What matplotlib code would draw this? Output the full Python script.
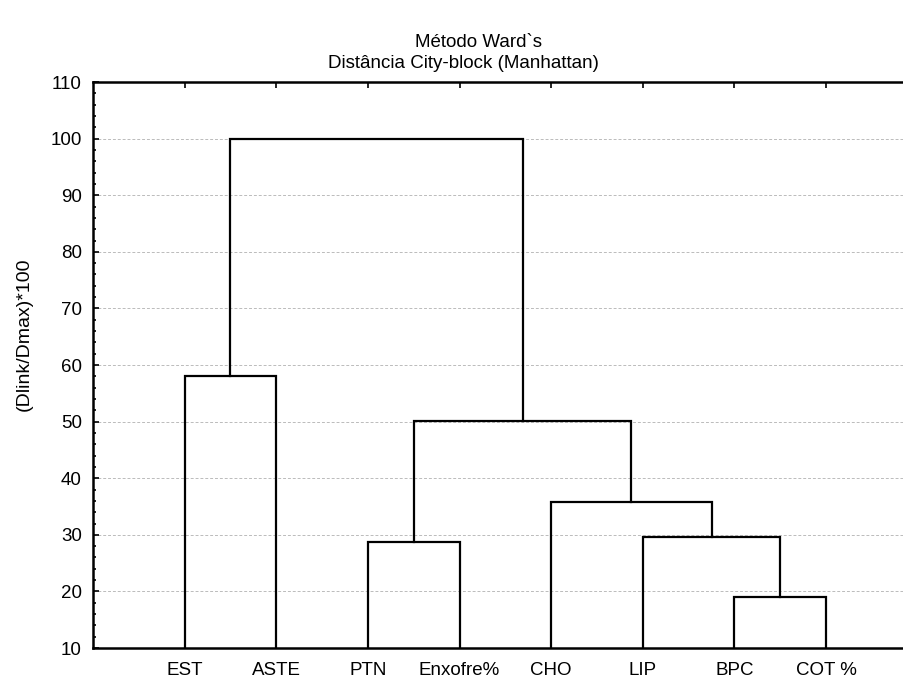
import matplotlib.pyplot as plt
from matplotlib.ticker import MultipleLocator

plt.rcParams['font.family'] = ['Liberation Sans', 'DejaVu Sans']

# leaves in plotting order
labels = ['EST', 'ASTE', 'PTN', 'Enxofre%', 'CHO', 'LIP', 'BPC', 'COT %']
# merges: (left node, right node, linkage distance); new node ids start at len(labels)
merge_left = [6, 5, 4, 2, 11, 0, 13]
merge_right = [7, 8, 9, 3, 10, 1, 12]
merge_height = [19.0, 29.7, 35.8, 28.7, 50.2, 58.0, 100.0]
base = 10

fig = plt.figure(figsize=(9.04, 6.78), dpi=100)
ax = fig.add_axes([0.1029, 0.0442, 0.8971, 0.8348])

# position and height of every node
xpos = {i: i + 1 for i in range(len(labels))}
ypos = {i: base for i in range(len(labels))}
for k in range(len(merge_height)):
    a, b, h = merge_left[k], merge_right[k], merge_height[k]
    ax.plot([xpos[a], xpos[a], xpos[b], xpos[b]], [ypos[a], h, h, ypos[b]],
            color='black', lw=1.6, solid_joinstyle='miter', zorder=3)
    node = len(labels) + k
    xpos[node] = (xpos[a] + xpos[b]) / 2
    ypos[node] = h

ax.set_xlim(0, 8.85)
ax.set_ylim(10, 110)
ax.set_xticks(range(1, len(labels) + 1))
ax.set_xticklabels(labels, fontsize=13.5)
ax.yaxis.set_major_locator(MultipleLocator(10))
ax.yaxis.set_minor_locator(MultipleLocator(2))
ax.tick_params(axis='y', which='major', direction='in', length=4, width=1.2,
               labelsize=13.5, pad=8)
ax.tick_params(axis='y', which='minor', direction='in', length=2.5, width=1.2)
ax.tick_params(axis='x', direction='in', top=True, bottom=False, length=4,
               width=1.2, pad=10)
ax.grid(axis='y', color='#bbbbbb', lw=0.7, ls=(0, (3, 2)))
ax.set_axisbelow(True)

for side in ['left', 'top', 'bottom']:
    ax.spines[side].set_linewidth(1.8)
ax.spines['right'].set_visible(False)

ax.set_ylabel('(Dlink/Dmax)*100', fontsize=14)
ax.yaxis.set_label_coords(-0.074, 0.555)

fig.text(0.529, 0.938, 'Método Ward`s', ha='center', va='center', fontsize=13.5)
fig.text(0.513, 0.906, 'Distância City-block (Manhattan)', ha='center',
         va='center', fontsize=13.5)

fig.savefig('out.png', dpi=100)
